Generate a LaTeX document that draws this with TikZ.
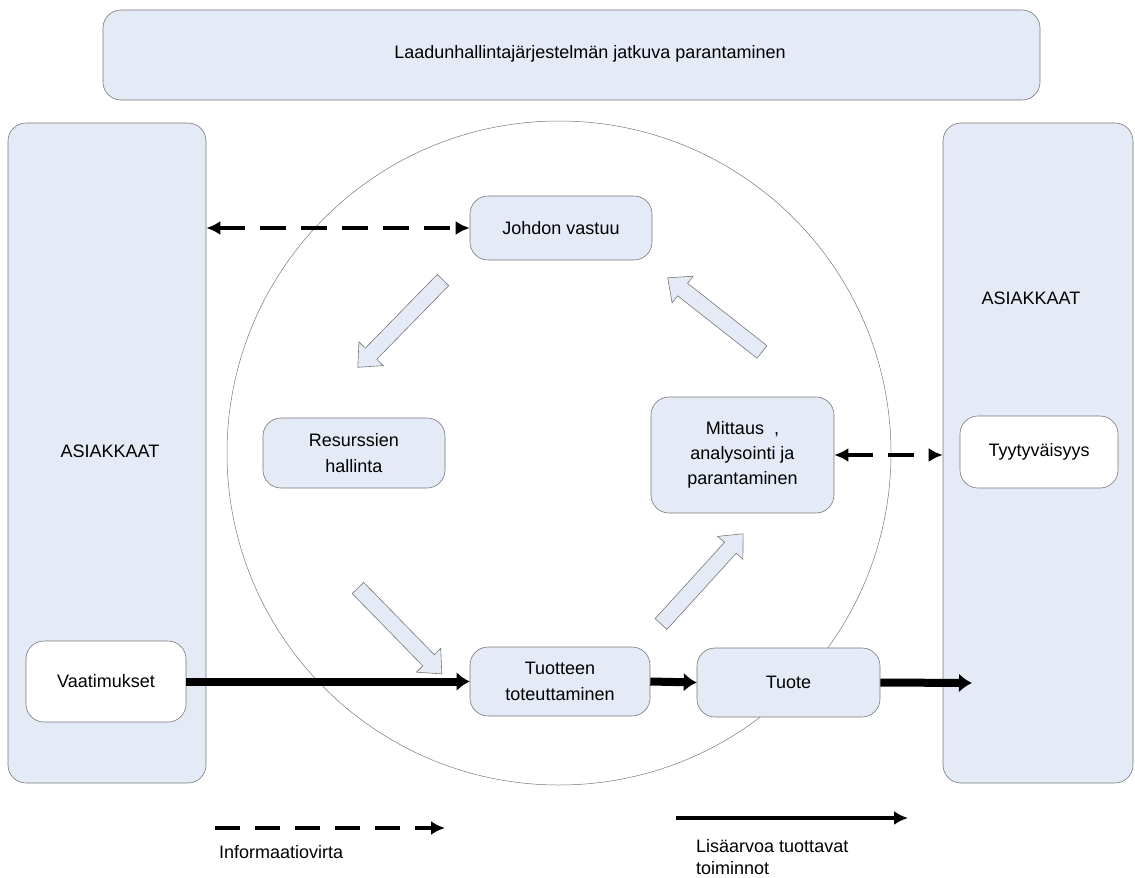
\documentclass[tikz,border=0pt]{standalone}
\usepackage{fontspec}
\setmainfont{Liberation Sans}
\usetikzlibrary{arrows.meta}
\definecolor{boxfill}{RGB}{228,234,246}
\definecolor{boxline}{RGB}{120,120,120}
\newcommand\blockarr[3]{% start, angle, length
  \begin{scope}[shift={#1}, rotate=#2]
    \draw[barrow] (0,-8) -- (#3-19,-8) -- (#3-19,-17) -- (#3,0) -- (#3-19,17) -- (#3-19,8) -- (0,8) -- cycle;
  \end{scope}}
\begin{document}
\begin{tikzpicture}[x=1pt,y=-1pt, font=\fontsize{18}{26}\selectfont,
 rbox/.style={draw=boxline, line width=0.6pt, fill=boxfill, rounded corners=18pt, inner sep=0pt},
 wbox/.style={rbox, fill=white},
 txt/.style={align=center, inner sep=0pt},
 info/.style={line width=4pt, dash pattern=on 26pt off 15pt, {Latex[length=14pt,width=14pt]}-{Latex[length=14pt,width=14pt]}},
 flow/.style={line width=8pt, -{Latex[length=13pt,width=19pt]}},
 barrow/.style={draw=boxline, fill=boxfill, line width=0.6pt}]
\useasboundingbox (0,0) rectangle (1135,878);
% circle
\node[draw=boxline, circle, line width=0.5pt, minimum size=664pt, inner sep=0pt] (circ) at (559,453) {};
% top box
\node[rbox, minimum width=937pt, minimum height=90pt] (top) at (571.5,55) {};
\node[txt] (toplbl) at (590,54) {Laadunhallintajärjestelmän jatkuva parantaminen};
% side boxes
\node[rbox, minimum width=198pt, minimum height=660pt] (lbox) at (107,453) {};
\node[rbox, minimum width=190pt, minimum height=660pt] (rbox) at (1038,453) {};
\node[txt] (lcust) at (110,451) {ASIAKKAAT};
\node[txt] (rcust) at (1031,298) {ASIAKKAAT};
% inner boxes
\node[rbox, minimum width=182pt, minimum height=64pt] (johdon) at (561,228) {Johdon vastuu};
\node[rbox, minimum width=182pt, minimum height=70pt, txt] (res) at (354,453) {Resurssien\\hallinta};
\node[rbox, minimum width=183pt, minimum height=116pt, txt, font=\fontsize{18}{25}\selectfont] (mitt) at (742.5,455) {Mittaus\ \ ,\\ analysointi ja\\parantaminen};
\node[wbox, minimum width=158pt, minimum height=72pt] (tyyt) at (1039,452) {Tyytyväisyys};
\node[wbox, minimum width=160pt, minimum height=81pt] (vaat) at (106,681.5) {Vaatimukset};
\node[rbox, minimum width=180pt, minimum height=69pt, txt] (tot) at (560,681.5) {Tuotteen\\toteuttaminen};
\node[rbox, minimum width=183pt, minimum height=69pt] (tuote) at (788.5,682.5) {Tuote};
% block arrows
\blockarr{(443,280)}{225.7}{122}
\blockarr{(358,588)}{314.3}{120}
\blockarr{(661,624)}{47.7}{122}
\blockarr{(762,352)}{141.8}{120}
% information flows
\draw[info] (lbox.east |- johdon.west) -- (johdon.west);
\draw[info] (mitt.east) -- (mitt.east -| rbox.west);
% value flows
\coordinate (out) at (972,683);
\draw[flow] (vaat.east) -- (tot.west |- vaat.east);
\draw[flow] (tot.east) -- (tuote.west);
\draw[flow] (tuote.east) -- (out);
% legend
\coordinate (i1) at (215,828);
\coordinate (i2) at (445,828);
\draw[line width=4pt, dash pattern=on 25pt off 15pt, -{Latex[length=14pt,width=14pt]}] (i1) -- (i2);
\node[txt, anchor=west] (ilbl) at (219,852) {Informaatiovirta};
\coordinate (v1) at (676,818);
\coordinate (v2) at (908,818);
\draw[line width=4pt, -{Latex[length=14pt,width=14pt]}] (v1) -- (v2);
\node[anchor=west, align=left, inner sep=0pt, font=\fontsize{18}{22}\selectfont] (vlbl) at (696,857) {Lisäarvoa tuottavat\\toiminnot};
\end{tikzpicture}
\end{document}
